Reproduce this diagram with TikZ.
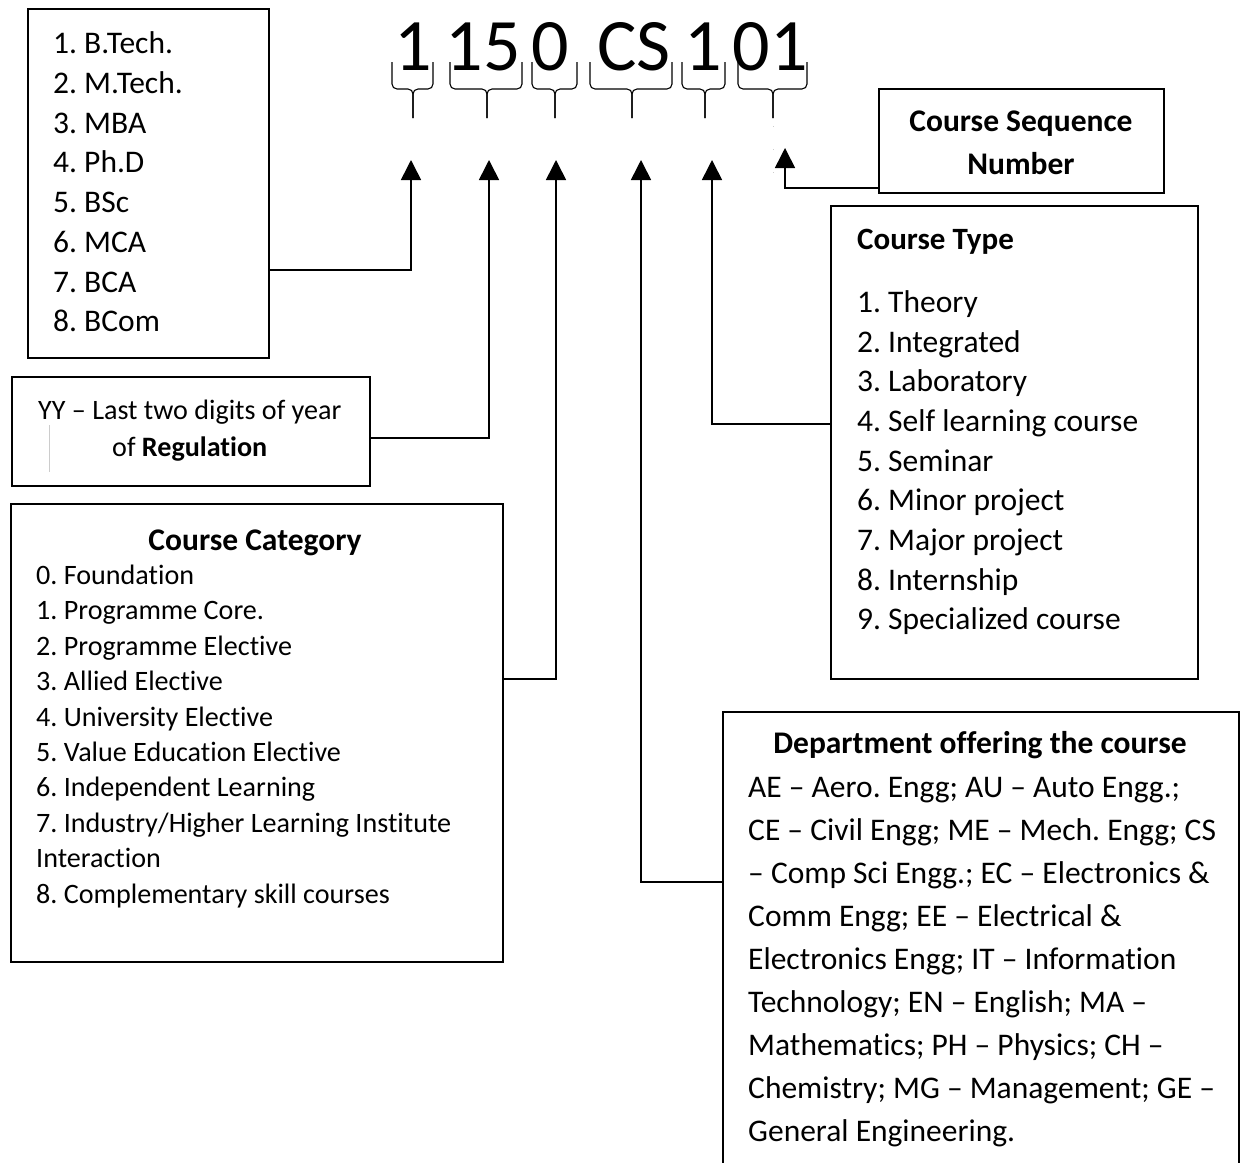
\documentclass[tikz,border=0pt]{standalone}
\usepackage{fontspec}
\setmainfont{Carlito}[RawFeature={-liga}]
\frenchspacing
\usetikzlibrary{arrows.meta}
\begin{document}
\begin{tikzpicture}[x=1pt,y=-1pt,
  box/.style={draw, line width=1.6pt, inner sep=0pt, anchor=north west},
  conn/.style={line width=1.6pt, -{Triangle[width=20pt,length=20pt]}},
  brc/.style={line width=1.1pt, rounded corners=5pt},
  big/.style={anchor=base, inner sep=0pt, font=\fontsize{74}{80}\selectfont},
  lst/.style={anchor=base west, inner sep=0pt, font=\fontsize{31.5}{36}\selectfont},
  lsts/.style={anchor=base west, inner sep=0pt, font=\fontsize{28.1}{33}\selectfont},
  ttl/.style={anchor=base, inner sep=0pt, font=\fontsize{31.5}{36}\selectfont\bfseries},
  ttlw/.style={anchor=base west, inner sep=0pt, font=\fontsize{31}{36}\selectfont\bfseries},
  faint/.style={line width=0.8pt, gray!40}]
\clip (0,0) rectangle (1241,1162);
\fill[white] (0,0) rectangle (1241,1162);

% code digits
\node[big] (g1) at (413,70) {1};
\node[big] (g2) at (483,70) {15};
\node[big] (g3) at (550,70) {0};
\node[big] (g4) at (634,70) {CS};
\node[big] (g5) at (703,70) {1};
\node[big] (g6) at (770,70) {01};

% braces
\foreach \l/\r/\m in {392/433/413, 450/522/487, 532/577/555, 590/672/632, 682/725/705, 738/807/773}{
  \draw[brc] (\l,62) -- (\l,89) -- (\m,89) -- (\m,118);
  \draw[brc] (\r,62) -- (\r,89) -- (\m,89) -- (\m,118);
}

% arrow tips
\coordinate (t1) at (411,160);
\coordinate (t2) at (489,160);
\coordinate (t3) at (556,160);
\coordinate (t4) at (641,160);
\coordinate (t5) at (712,160);
\coordinate (t6) at (785,148);

% boxes
\node[box, minimum width=241pt, minimum height=349pt] (prog) at (27,8) {};
\node[box, minimum width=358pt, minimum height=109pt] (yy) at (11,376) {};
\node[box, minimum width=492pt, minimum height=458pt] (cat) at (10,503) {};
\node[box, minimum width=285pt, minimum height=104pt] (seq) at (878,88) {};
\node[box, minimum width=367pt, minimum height=473pt] (type) at (830,205) {};
\node[box, minimum width=516pt, minimum height=520pt] (dept) at (722,711) {};

% connectors
\draw[conn] (prog.east |- 0,270) -| (t1);
\draw[conn] (yy.east |- 0,438) -| (t2);
\draw[conn] (cat.east |- 0,679) -| (t3);
\draw[conn] (dept.west |- 0,882) -| (t4);
\draw[conn] (type.west |- 0,424) -| (t5);
\draw[conn] (seq.west |- 0,188) -| (t6);

% faint artefacts
\draw[faint, dash pattern=on 1pt off 22pt] (773,126) -- (773,190);
\draw[faint] (49,425) -- (49,472);

% programme list
\node[lst] (p1) at (53,53) {1. B.Tech.};
\node[lst] (p2) at (53,93) {2. M.Tech.};
\node[lst] (p3) at (53,133) {3. MBA};
\node[lst] (p4) at (53,172) {4. Ph.D};
\node[lst] (p5) at (53,212) {5. BSc};
\node[lst] (p6) at (53,252) {6. MCA};
\node[lst] (p7) at (53,292) {7. BCA};
\node[lst] (p8) at (53,331) {8. BCom};

% YY
\node[lsts] (y1) at (38,419) {YY -- Last two digits of year};
\node[lsts] (y2) at (112,456) {of \textbf{Regulation}};

% course category
\node[ttl] (ct) at (255,550) {Course Category};
\node[lsts] (c0) at (36,584) {0. Foundation};
\node[lsts] (c1) at (36,619) {1. Programme Core.};
\node[lsts] (c2) at (36,655) {2. Programme Elective};
\node[lsts] (c3) at (36,690) {3. Allied Elective};
\node[lsts] (c4) at (36,726) {4. University Elective};
\node[lsts] (c5) at (36,761) {5. Value Education Elective};
\node[lsts] (c6) at (36,796) {6. Independent Learning};
\node[lsts] (c7) at (36,832) {7. Industry/Higher Learning Institute};
\node[lsts] (c7b) at (36,867) {Interaction};
\node[lsts] (c8) at (36,903) {8. Complementary skill courses};

% course sequence number
\node[ttl] (s1) at (1021,131) {Course Sequence};
\node[ttl] (s2) at (1021,174) {Number};

% course type
\node[ttlw] (tt) at (857,249) {Course Type};
\node[lst] (k1) at (857,312) {1. Theory};
\node[lst] (k2) at (857,352) {2. Integrated};
\node[lst] (k3) at (857,391) {3. Laboratory};
\node[lst] (k4) at (857,431) {4. Self learning course};
\node[lst] (k5) at (857,471) {5. Seminar};
\node[lst] (k6) at (857,510) {6. Minor project};
\node[lst] (k7) at (857,550) {7. Major project};
\node[lst] (k8) at (857,590) {8. Internship};
\node[lst] (k9) at (857,629) {9. Specialized course};

% department
\node[ttl] (dt) at (980,753) {Department offering the course};
\node[lst] (d1) at (748,797) {AE -- Aero. Engg; AU -- Auto Engg.;};
\node[lst] (d2) at (748,840) {CE -- Civil Engg; ME -- Mech. Engg; CS};
\node[lst] (d3) at (748,883) {-- Comp Sci Engg.; EC -- Electronics \&};
\node[lst] (d4) at (748,926) {Comm Engg; EE -- Electrical \&};
\node[lst] (d5) at (748,969) {Electronics Engg; IT -- Information};
\node[lst] (d6) at (748,1012) {Technology; EN -- English; MA --};
\node[lst] (d7) at (748,1055) {Mathematics; PH -- Physics; CH --};
\node[lst] (d8) at (748,1098) {Chemistry; MG -- Management; GE --};
\node[lst] (d9) at (748,1141) {General Engineering.};
\end{tikzpicture}
\end{document}
